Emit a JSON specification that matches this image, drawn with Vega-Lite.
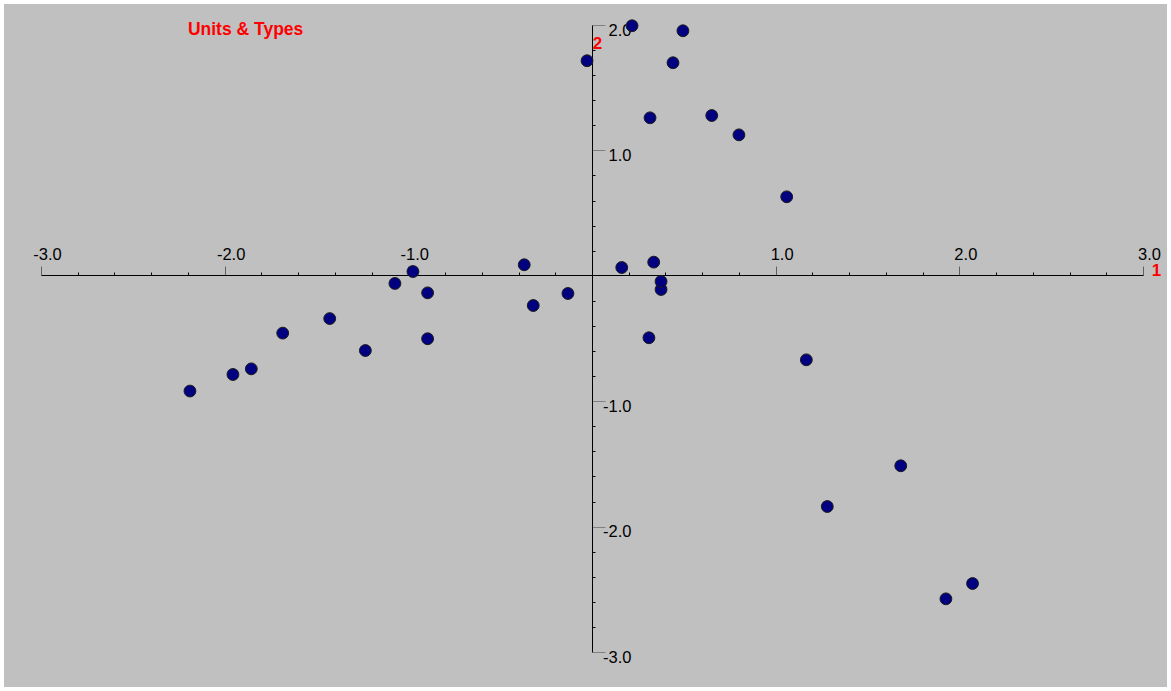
{
  "$schema": "https://vega.github.io/schema/vega-lite/v6.json",
  "width": 1102,
  "height": 627,
  "autosize": {"type": "none"},
  "padding": {"left": 41, "top": 25, "right": 28, "bottom": 39},
  "background": "#c0c0c0",
  "config": {
    "view": {"stroke": null},
    "font": "Liberation Sans",
    "axis": {"grid": false, "labelFont": "Liberation Sans", "titleFont": "Liberation Sans", "labelFlush": false, "labelOverlap": false, "labelBound": false}
  },
  "data": {
    "values": [
      {"x": 0.218, "y": 1.994},
      {"x": 0.495, "y": 1.954},
      {"x": -0.027, "y": 1.715},
      {"x": 0.441, "y": 1.699},
      {"x": 0.316, "y": 1.26},
      {"x": 0.652, "y": 1.278},
      {"x": 0.8, "y": 1.124},
      {"x": 1.06, "y": 0.63},
      {"x": -0.369, "y": 0.088},
      {"x": -0.975, "y": 0.034},
      {"x": -1.073, "y": -0.061},
      {"x": -0.895, "y": -0.136},
      {"x": -0.131, "y": -0.141},
      {"x": -0.32, "y": -0.237},
      {"x": 0.162, "y": 0.066},
      {"x": 0.336, "y": 0.109},
      {"x": 0.376, "y": -0.109},
      {"x": 0.376, "y": -0.045},
      {"x": 0.31, "y": -0.494},
      {"x": -1.428, "y": -0.341},
      {"x": -1.684, "y": -0.457},
      {"x": -1.234, "y": -0.596},
      {"x": -0.895, "y": -0.502},
      {"x": -1.855, "y": -0.742},
      {"x": -1.955, "y": -0.787},
      {"x": -2.189, "y": -0.919},
      {"x": 1.167, "y": -0.67},
      {"x": 1.681, "y": -1.515},
      {"x": 1.281, "y": -1.84},
      {"x": 2.072, "y": -2.454},
      {"x": 1.927, "y": -2.576}
    ]
  },
  "resolve": {"axis": {"x": "independent", "y": "independent"}},
  "layer": [
    {
      "mark": {"type": "circle", "opacity": 0},
      "encoding": {
        "x": {
          "field": "x", "type": "quantitative",
          "scale": {"domain": [-3, 3], "nice": false, "zero": false},
          "axis": {
            "orient": "top", "offset": -250, "title": null,
            "values": [-2.8, -2.6, -2.4, -2.2, -1.8, -1.6, -1.4, -1.2, -0.8, -0.6, -0.4, -0.2, 0.2, 0.4, 0.6, 0.8, 1.2, 1.4, 1.6, 1.8, 2.2, 2.4, 2.6, 2.8],
            "labels": false, "domain": false, "tickSize": 3, "tickColor": "#000000", "tickWidth": 1
          }
        },
        "y": {
          "field": "y", "type": "quantitative",
          "scale": {"domain": [-3, 2], "nice": false, "zero": false},
          "axis": {
            "orient": "right", "offset": -551, "title": null,
            "values": [-2.8, -2.6, -2.4, -2.2, -1.8, -1.6, -1.4, -1.2, -0.8, -0.6, -0.4, -0.2, 0.2, 0.4, 0.6, 0.8, 1.2, 1.4, 1.6, 1.8],
            "labels": false, "domain": false, "tickSize": 3, "tickColor": "#000000", "tickWidth": 1
          }
        }
      }
    },
    {
      "mark": {"type": "circle", "size": 140, "fill": "#000080", "stroke": "#1a1a1a", "strokeWidth": 1, "opacity": 1},
      "encoding": {
        "x": {
          "field": "x", "type": "quantitative",
          "axis": {
            "orient": "top", "offset": -250,
            "values": [-3, -2, -1, 1, 2, 3],
            "labelExpr": "datum.value < 0 ? '-' + format(-datum.value, '.1f') : format(datum.value, '.1f')",
            "tickSize": 9, "tickColor": "#606060", "tickWidth": 1,
            "domainColor": "#000000", "domainWidth": 1,
            "labelFontSize": 16.5, "labelColor": "#000000", "labelAlign": "center", "labelOffset": 6,
            "labelBaseline": "alphabetic", "labelPadding": 7,
            "title": "1", "titleX": 1115, "titleY": -5, "titleAngle": 0, "titleAlign": "center", "titleBaseline": "middle",
            "titleColor": "#ff0000", "titleFontSize": 17, "titleFontWeight": "bold"
          }
        },
        "y": {
          "field": "y", "type": "quantitative",
          "axis": {
            "orient": "right", "offset": -551,
            "values": [-3, -2, -1, 1, 2],
            "labelExpr": "datum.value < 0 ? '-' + format(-datum.value, '.1f') : format(datum.value, '.1f')",
            "tickSize": 13, "tickColor": "#808080", "tickWidth": 1,
            "domainColor": "#000000", "domainWidth": 1,
            "labelFontSize": 16.5, "labelColor": "#000000", "labelAlign": "right", "labelPadding": 26,
            "labelBaseline": "middle", "labelOffset": 5,
            "title": "2", "titleX": 5, "titleY": 18, "titleAngle": 0, "titleAlign": "center", "titleBaseline": "middle",
            "titleColor": "#ff0000", "titleFontSize": 17, "titleFontWeight": "bold"
          }
        }
      }
    },
    {
      "data": {"values": [{"label": "Units & Types"}]},
      "mark": {"type": "text", "align": "left", "baseline": "middle", "fontSize": 17.5, "fontWeight": "bold", "color": "#ff0000", "font": "Liberation Sans"},
      "encoding": {
        "x": {"datum": -2.2, "type": "quantitative", "axis": null},
        "y": {"datum": 1.96, "type": "quantitative", "axis": null},
        "text": {"field": "label"}
      }
    },
    {
      "data": {"values": [{"frame": "border"}]},
      "mark": {"type": "rect", "fill": "#ffffff", "fillOpacity": 0, "stroke": "#ffffff", "strokeWidth": 8},
      "encoding": {
        "x": {"datum": -3.2232, "type": "quantitative", "axis": null},
        "x2": {"datum": 3.1524},
        "y": {"datum": 2.1994, "type": "quantitative", "axis": null},
        "y2": {"datum": -3.311}
      }
    }
  ]
}
